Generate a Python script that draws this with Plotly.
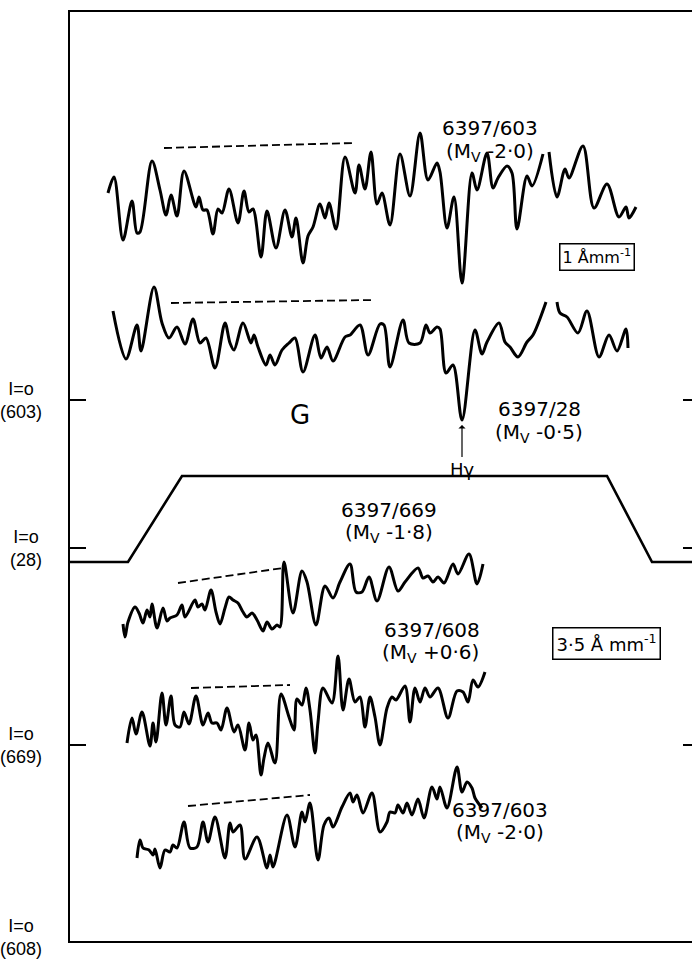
import plotly.graph_objects as go

# ---------------- data (position along plate, intensity) ----------------
# Trace A: 6397/603 at 1 A/mm (top)
a_x = [38, 44, 53, 62, 67, 70, 82, 90, 96, 101, 107, 114, 126, 129, 133, 137, 143, 148, 152, 159,
       168, 174, 179, 183, 191, 197, 206, 215, 222, 226, 233, 238, 243, 250, 255, 259, 266, 275,
       285, 289, 295, 301, 307, 312, 320, 330, 340, 350, 358, 367, 370, 377, 384, 392, 402, 407,
       417, 423, 428, 437, 442, 447, 457, 462, 473, None,
       479, 487, 495, 499, 513, 524, 537, 549, 556, 559, 566]
a_y = [748, 764, 701, 740, 708, 709, 780, 751, 726, 746, 725, 770, 734, 744, 731, 731, 707, 732, 728, 752,
       718, 750, 729, 732, 684, 730, 693, 731, 704, 723, 678, 705, 714, 737, 723, 738, 712, 784,
       748, 776, 752, 789, 737, 748, 716, 787, 745, 808, 761, 778, 769, 713, 744, 658, 768, 751,
       788, 753, 763, 775, 768, 712, 765, 755, 787, None,
       789, 744, 772, 763, 795, 733, 757, 724, 734, 723, 734]

# Trace B: 6397/28 at 1 A/mm
b_x = [43, 56, 67, 71, 84, 92, 99, 107, 115, 123, 130, 136, 145, 155, 160, 164, 173, 181, 184, 188,
       196, 200, 205, 212, 219, 225, 233, 245, 251, 257, 263, 275, 280, 290, 298, 310, 314, 320,
       333, 339, 350, 356, 360, 367, 370, 376, 383, 392, 405, 412, 417, 429, 435, 440, 448, 457,
       463, 476, None,
       487, 490, 497, 508, 517, 529, 539, 547, 556, 558]
b_y = [630, 582, 616, 590, 654, 618, 603, 614, 597, 622, 598, 603, 573, 618, 598, 591, 618, 598, 606, 594,
       576, 586, 576, 591, 598, 603, 569, 606, 583, 594, 580, 604, 606, 616, 586, 617, 616, 574,
       621, 598, 598, 616, 608, 614, 612, 568, 576, 521, 611, 587, 599, 618, 599, 594, 584, 599,
       606, 639, None,
       639, 628, 624, 608, 630, 584, 606, 590, 612, 593]

# Trace C: 6397/669 at 3.5 A/mm
c_x = [53, 55, 58, 65, 69, 73, 77, 80, 82, 87, 93, 97, 100, 107, 112, 115, 125, 128, 132, 135,
       141, 146, 150, 155, 159, 163, 168, 173, 177, 182, 187, 193, 197, 202, 207, 210, 214, 223,
       232, 237, 246, 255, 263, 270, 280, 286, 292, 299, 307, 319, 328, 335, 348, 353, 358, 363,
       368, 374, 383, 388, 399, 407, 413]
c_y = [317, 304, 319, 334, 328, 318, 331, 324, 337, 313, 333, 320, 323, 326, 336, 324, 341, 334, 337, 331,
       351, 329, 317, 333, 344, 341, 338, 329, 324, 328, 321, 310, 319, 312, 316, 314, 379, 328,
       370, 359, 316, 355, 343, 359, 377, 349, 349, 364, 340, 374, 350, 359, 373, 363, 365, 359,
       364, 358, 377, 367, 387, 357, 377]

# Trace D: 6397/608 at 3.5 A/mm
d_x = [57, 62, 66, 72, 80, 83, 86, 92, 96, 101, 105, 110, 114, 119, 126, 133, 138, 142, 147, 151,
       157, 164, 168, 175, 179, 183, 186, 191, 194, 198, 205, 211, 219, 224, 227, 232, 236, 240,
       245, 248, 253, 262, 268, 273, 279, 285, 290, 295, 300, 305, 310, 317, 322, 326, 335, 340,
       345, 350, 355, 360, 368, 378, 387, 393, 398, 403, 408, 415]
d_y = [198, 223, 207, 229, 195, 218, 199, 248, 216, 245, 216, 214, 229, 217, 245, 216, 228, 218, 218, 211,
       233, 209, 216, 191, 218, 201, 206, 166, 183, 198, 178, 247, 224, 211, 242, 236, 253, 231,
       188, 219, 253, 238, 285, 231, 262, 239, 244, 214, 244, 224, 196, 233, 244, 241, 255, 219,
       253, 239, 253, 244, 253, 223, 250, 249, 239, 261, 254, 269]

# Trace E: 6397/603 at 3.5 A/mm (bottom)
e_x = [67, 70, 73, 79, 83, 85, 90, 95, 100, 103, 107, 114, 120, 127, 133, 138, 145, 155, 160, 163,
       170, 175, 187, 197, 200, 203, 217, 225, 232, 235, 240, 248, 254, 259, 263, 272, 280, 283,
       287, 293, 302, 310, 317, 320, 325, 328, 333, 337, 342, 348, 354, 362, 367, 370, 377, 387,
       392, 397, 402, 405, 412]
e_y = [83, 101, 93, 91, 86, 92, 73, 91, 89, 96, 93, 119, 93, 94, 119, 99, 124, 83, 118, 109,
       116, 82, 104, 73, 86, 74, 126, 94, 129, 119, 138, 81, 116, 123, 114, 134, 148, 139,
       146, 128, 148, 109, 119, 129, 128, 136, 128, 138, 126, 142, 123, 154, 142, 154, 133, 174,
       149, 159, 153, 143, 133]

# Dashed continuum lines (start, end) for each trace
dash_x = [[94, 283], [101, 303], [108, 213], [121, 220], [118, 240]]
dash_y = [[793, 798], [638, 641], [358, 373], [253, 256], [135, 146]]

# Slit-width / scale-change outline
step_x = [0, 58, 112, 537, 582, 622]
step_y = [379, 379, 465, 465, 379, 379]

# Zero-intensity levels on the axis
zero_vals = [541, 393, 196, 0]
zero_text = ["I=o<br>(603)", "I=o<br>(28)", "I=o<br>(669)", "I=o<br>(608)"]

X_RANGE = [0, 622]
Y_RANGE = [0, 929]

# ---------------- figure ----------------
fig = go.Figure()
for xs, ys in [(a_x, a_y), (b_x, b_y), (c_x, c_y), (d_x, d_y), (e_x, e_y)]:
    fig.add_trace(go.Scatter(x=xs, y=ys, mode="lines",
                             line=dict(color="black", width=3, shape="spline", smoothing=0.9),
                             connectgaps=False, hoverinfo="skip", showlegend=False))

fig.add_trace(go.Scatter(x=step_x, y=step_y, mode="lines",
                         line=dict(color="black", width=2.6), hoverinfo="skip", showlegend=False))

for xs, ys in zip(dash_x, dash_y):
    fig.add_trace(go.Scatter(x=xs, y=ys, mode="lines", yaxis="y2",
                             line=dict(color="black", width=1.8, dash="8px,4px"),
                             hoverinfo="skip", showlegend=False))

FONT = "DejaVu Sans, Liberation Sans, Arial"
AXFONT = "Liberation Sans, Arial, DejaVu Sans"


def label(x, y, text, size=20, **kw):
    fig.add_annotation(x=x, y=y, text=text, showarrow=False, xref="x", yref="y",
                       xanchor="center", yanchor="middle",
                       font=dict(family=FONT, size=size, color="black"), **kw)


# zero-level labels, centred two-line text left of the axis
for v, t in zip(zero_vals, zero_text):
    fig.add_annotation(x=0, y=v, xref="paper", yref="y", text=t, showarrow=False,
                       xanchor="right", xshift=-26, yshift=(4 if v == 0 else 0), align="center",
                       font=dict(family=AXFONT, size=18, color="black"))

label(420, 813, "6397/603")
label(420, 789, "(M<sub>V</sub> -2·0)")
label(527, 684, "1 Åmm<sup>-1</sup>", size=16, bordercolor="black", borderwidth=1.5, borderpad=2)
label(230, 526, "G", size=26)
label(469, 532, "6397/28")
label(469, 508, "(M<sub>V</sub> -0·5)")
fig.add_annotation(x=392, y=516, text="Hγ", showarrow=True, ax=0, ay=44, arrowhead=1,
                   arrowsize=1, arrowwidth=1.2, arrowcolor="black", xref="x", yref="y",
                   font=dict(family=FONT, size=18, color="black"))
label(319, 431, "6397/669")
label(319, 408, "(M<sub>V</sub> -1·8)")
label(362, 311, "6397/608")
label(360, 288, "(M<sub>V</sub> +0·6)")
label(536, 298, "3·5 Å mm<sup>-1</sup>", size=18, bordercolor="black", borderwidth=1.5, borderpad=3)
label(430, 131, "6397/603")
label(430, 108, "(M<sub>V</sub> -2·0)")

fig.update_layout(
    width=692, height=959,
    margin=dict(l=70, r=0, t=12, b=18),
    paper_bgcolor="white", plot_bgcolor="white",
    xaxis=dict(range=X_RANGE, showgrid=False, zeroline=False, showticklabels=False, ticks="",
               showline=True, linecolor="black", linewidth=2, mirror=True, fixedrange=True),
    yaxis=dict(range=Y_RANGE, showgrid=False, zeroline=False, showline=True, linecolor="black",
               linewidth=2, ticks="inside", ticklen=16, tickwidth=2, tickcolor="black",
               tickvals=zero_vals, showticklabels=False, fixedrange=True),
    yaxis2=dict(range=Y_RANGE, overlaying="y", side="right", showgrid=False, zeroline=False,
                showline=False, ticks="inside", ticklen=9, tickwidth=2, tickcolor="black",
                tickvals=zero_vals, showticklabels=False, fixedrange=True),
)

fig.write_html("out.html", config={"displayModeBar": False},
               post_script="document.body.style.margin='0';document.body.style.overflow='hidden';")
